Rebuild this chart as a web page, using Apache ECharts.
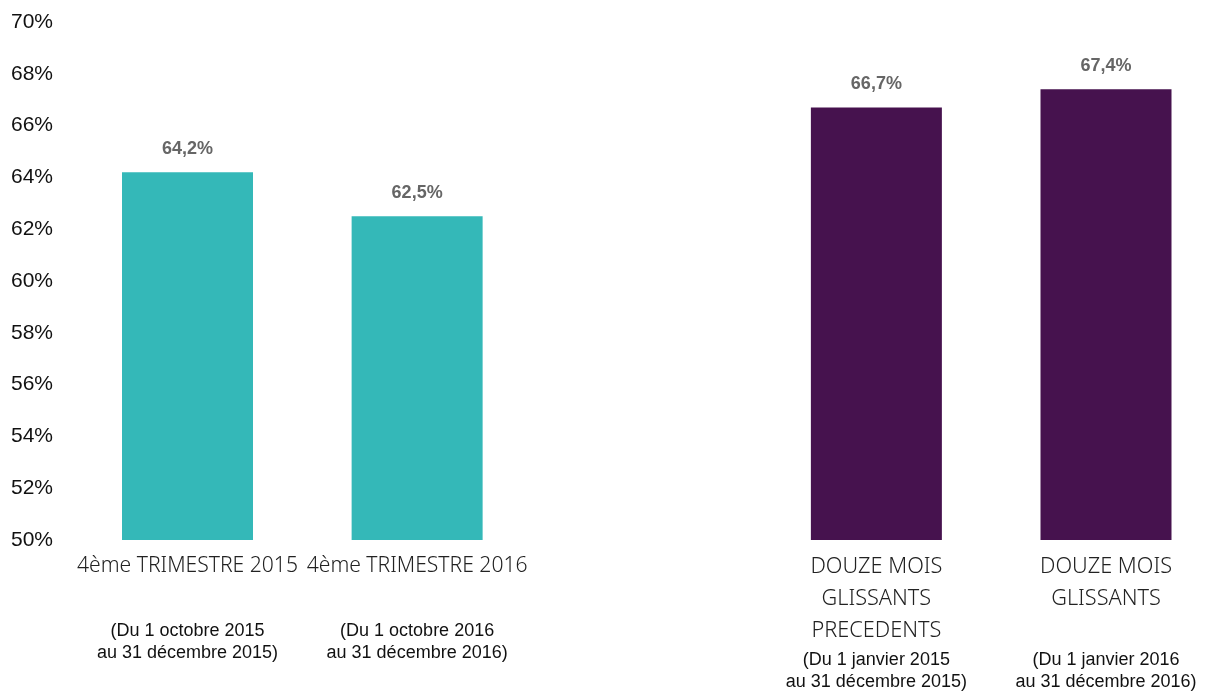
<!DOCTYPE html>
<html>
<head>
<meta charset="utf-8">
<script src="https://cdn.jsdelivr.net/npm/echarts@6/dist/echarts.min.js"></script>
<style>
  html, body { margin: 0; padding: 0; background: #fff; }
  #chart { width: 1207px; height: 692px; }
</style>
</head>
<body>
<div id="chart"></div>
<script>
// chart data
const categories = [
    '4ème TRIMESTRE 2015',
    '4ème TRIMESTRE 2016',
    '',
    'DOUZE MOIS\nGLISSANTS\nPRECEDENTS',
    'DOUZE MOIS\nGLISSANTS'
];
const periods = [
    '(Du 1 octobre 2015\nau 31 décembre 2015)',
    '(Du 1 octobre 2016\nau 31 décembre 2016)',
    '',
    '(Du 1 janvier 2015\nau 31 décembre 2015)',
    '(Du 1 janvier 2016\nau 31 décembre 2016)'
];
const values = [64.2, 62.5, null, 66.7, 67.4];
const groups = ['trimestre', 'trimestre', null, 'douze', 'douze'];
const yMin = 50;
const yMax = 70;
const yStep = 2;

// styles
const groupColors = { trimestre: '#34B8B8', douze: '#46124E' };
const labelFamily = '"Noto Sans Condensed Light", "Noto Sans", Lato, sans-serif';
// the original uses a narrow light face: size the text so a reference line keeps its width
const fitText = { trimestre: ['4ème TRIMESTRE 2015', 221], douze: ['DOUZE MOIS', 132] };
const lineHeights = { trimestre: 30, douze: 32 };
const periodOffset = { trimestre: 69, douze: 98 };

function fitFontSize(text, width) {
    let ctx = document.createElement('canvas').getContext('2d');
    ctx.font = '300 100px ' + labelFamily;
    return Math.round(100 * width / ctx.measureText(text).width * 10) / 10;
}

let rich = {
    s: { fontFamily: '"Liberation Sans", Arial, sans-serif', fontSize: 18, lineHeight: 22, color: '#111' }
};
for (let g in fitText) {
    rich[g] = {
        fontFamily: labelFamily,
        fontWeight: 300,
        fontSize: fitFontSize(fitText[g][0], fitText[g][1]),
        lineHeight: lineHeights[g],
        color: '#222'
    };
}

function categoryLabel(value, index) {
    let g = groups[index];
    if (!g) return '';
    let lines = categories[index].split('\n');
    let gap = Math.max(1, periodOffset[g] - lines.length * lineHeights[g]);
    let gapName = 'gap' + index;
    rich[gapName] = { fontSize: 1, lineHeight: gap };
    let main = lines.map(l => '{' + g + '|' + l + '}').join('\n');
    let sub = periods[index].split('\n').map(l => '{s|' + l + '}').join('\n');
    return main + '\n{' + gapName + '| }\n' + sub;
}
// build gap styles before setOption
categories.forEach((c, i) => categoryLabel(c, i));

let chart = echarts.init(document.getElementById('chart'));

let option = {
    animation: false,
    backgroundColor: '#fff',
    grid: { left: 187.5, right: 101, top: 22, height: 518, containLabel: false },
    xAxis: {
        type: 'category',
        data: categories,
        boundaryGap: false,
        axisLine: { show: false },
        axisTick: { show: false },
        axisLabel: {
            interval: 0,
            margin: 11,
            formatter: categoryLabel,
            rich: rich
        }
    },
    yAxis: {
        type: 'value',
        min: yMin,
        max: yMax,
        interval: yStep,
        splitLine: { show: false },
        axisLine: { show: false },
        axisTick: { show: false },
        axisLabel: {
            margin: 134.5,
            formatter: '{value}%',
            fontFamily: '"Liberation Sans", Arial, sans-serif',
            fontSize: 21,
            color: '#111'
        }
    },
    series: [{
        type: 'bar',
        barWidth: 131,
        data: values.map((v, i) => ({
            value: v,
            itemStyle: { color: groups[i] ? groupColors[groups[i]] : 'transparent' }
        })),
        label: {
            show: true,
            position: 'top',
            distance: 14,
            fontFamily: '"Liberation Sans", Arial, sans-serif',
            fontWeight: 'bold',
            fontSize: 18,
            color: '#666',
            formatter: p => p.value == null ? '' : p.value.toFixed(1).replace('.', ',') + '%'
        }
    }]
};

chart.setOption(option);
</script>
</body>
</html>
